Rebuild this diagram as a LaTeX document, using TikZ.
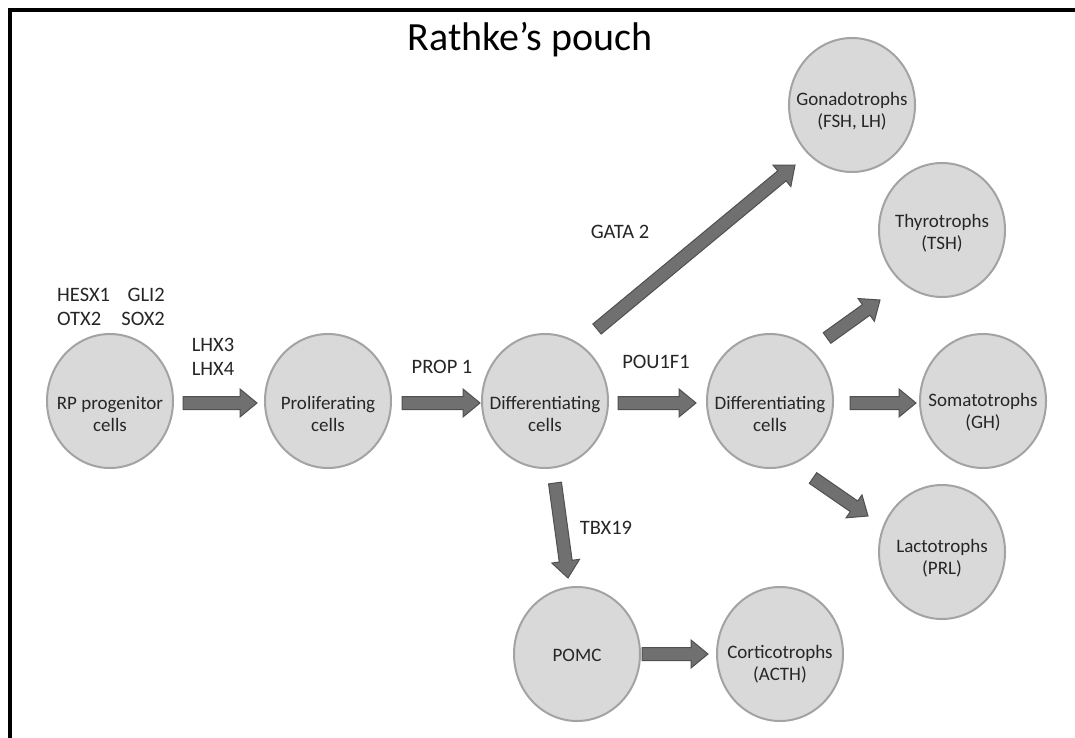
\documentclass[tikz,border=0pt]{standalone}
\usepackage{fontspec}
\setmainfont{Carlito}
\usetikzlibrary{calc,shapes.geometric}
\definecolor{cellfill}{HTML}{D9D9D9}
\definecolor{cellline}{HTML}{A3A3A3}
\definecolor{arrfill}{HTML}{707070}
\definecolor{arrline}{HTML}{505050}
\definecolor{txt}{HTML}{262626}
\tikzset{
  cell/.style={ellipse, draw=cellline, fill=cellfill, line width=2pt,
    minimum width=126pt, minimum height=134pt, inner sep=0pt},
  celltext/.style={align=center, font=\fontsize{19}{22.5}\selectfont, text=txt, inner sep=0pt},
  gene/.style={font=\fontsize{20.5}{24}\selectfont, text=txt, inner sep=0pt, align=center},
  arrowstyle/.style={fill=arrfill, draw=arrline, line width=1pt, line join=miter},
}
\newcommand\blockarrow[2]{%
  \coordinate (#2hb) at ($(#2)!17pt!(#1)$);
  \filldraw[arrowstyle] ($(#1)!6.5pt!90:(#2)$) -- ($(#2hb)!6.5pt!90:(#2)$)
    -- ($(#2hb)!14pt!90:(#2)$) -- (#2) -- ($(#2hb)!14pt!-90:(#2)$)
    -- ($(#2hb)!6.5pt!-90:(#2)$) -- ($(#1)!6.5pt!-90:(#2)$) -- cycle;}
\begin{document}
\begin{tikzpicture}[x=1pt,y=-1pt]
\useasboundingbox (0,0) rectangle (1075,738);
\fill[white] (0,0) rectangle (1075,738);
\draw[line width=4pt] (10,740) -- (10,10) -- (1077,10);

\node[font=\fontsize{40}{42}\selectfont, text=black] (title) at (530,40) {Rathke’s pouch};

% cells
\node[cell] (rp) at (110,401) {};
\node[celltext] (rpt) at (110,414) {RP progenitor\\cells};
\node[cell] (pr) at (328,401) {};
\node[celltext] (prt) at (328,414) {Proliferating\\cells};
\node[cell] (d1) at (545,401) {};
\node[celltext] (d1t) at (545,414) {Differentiating\\cells};
\node[cell] (d2) at (770,401) {};
\node[celltext] (d2t) at (770,414) {Differentiating\\cells};
\node[cell] (go) at (852,105) {};
\node[celltext] (got) at (852,111) {Gonadotrophs\\(FSH, LH)};
\node[cell] (th) at (942,230) {};
\node[celltext] (tht) at (942,233) {Thyrotrophs\\(TSH)};
\node[cell] (so) at (983,401) {};
\node[celltext] (sot) at (983,412) {Somatotrophs\\(GH)};
\node[cell] (la) at (942,552) {};
\node[celltext] (lat) at (942,558) {Lactotrophs\\(PRL)};
\node[cell] (po) at (577,654) {};
\node[celltext] (pot) at (577,655) {POMC};
\node[cell] (co) at (780,654) {};
\node[celltext] (cot) at (780,664) {Corticotrophs\\(ACTH)};

% gene labels
\node[gene, anchor=west] (hesx) at (57,295) {HESX1};
\node[gene, anchor=east] (gli) at (165,295) {GLI2};
\node[gene, anchor=west] (otx) at (57,319) {OTX2};
\node[gene, anchor=east] (sox) at (165,319) {SOX2};
\node[gene] (lhx) at (213,357) {LHX3\\LHX4};
\node[gene] (prop) at (442,367) {PROP 1};
\node[gene] (pou) at (656,362) {POU1F1};
\node[gene] (gata) at (620,232) {GATA 2};
\node[gene] (tbx) at (606,528) {TBX19};

% arrow end points
\coordinate (a1s) at (183,403); \coordinate (a1e) at (257,403);
\coordinate (a2s) at (402,403); \coordinate (a2e) at (480,403);
\coordinate (a3s) at (618,403); \coordinate (a3e) at (696,403);
\coordinate (a4s) at (597,329); \coordinate (a4e) at (795,165);
\coordinate (a5s) at (827,338); \coordinate (a5e) at (880,300);
\coordinate (a6s) at (850,403); \coordinate (a6e) at (916,403);
\coordinate (a7s) at (813,478); \coordinate (a7e) at (868,516);
\coordinate (a8s) at (555,483); \coordinate (a8e) at (568,578);
\coordinate (a9s) at (642,654); \coordinate (a9e) at (708,654);

\blockarrow{a1s}{a1e}
\blockarrow{a2s}{a2e}
\blockarrow{a3s}{a3e}
\blockarrow{a4s}{a4e}
\blockarrow{a5s}{a5e}
\blockarrow{a6s}{a6e}
\blockarrow{a7s}{a7e}
\blockarrow{a8s}{a8e}
\blockarrow{a9s}{a9e}
\end{tikzpicture}
\end{document}
